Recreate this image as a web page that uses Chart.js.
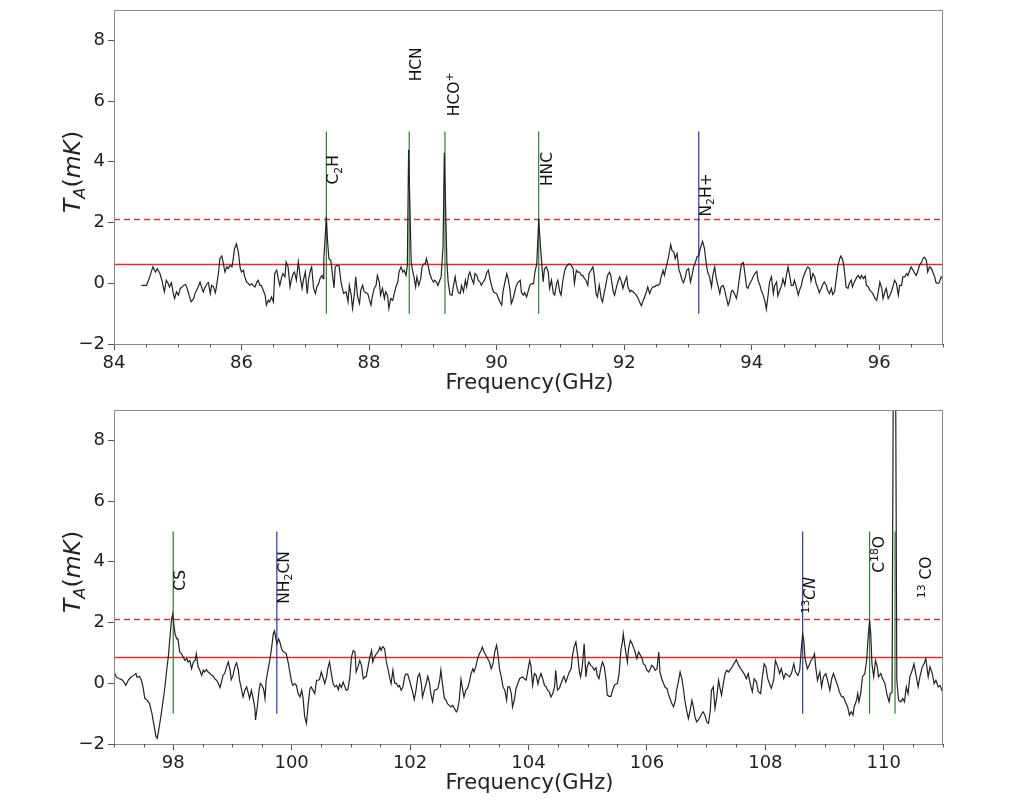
<!DOCTYPE html>
<html>
<head>
<meta charset="utf-8">
<script src="https://cdn.jsdelivr.net/npm/chart.js@4"></script>
<style>
  body { margin: 0; background: #fff; }
  canvas { position: absolute; left: 0; }
  #topChart { top: 0; }
  #bottomChart { top: 400px; }
</style>
</head>
<body>
<canvas id="topChart" width="1024" height="400"></canvas>
<canvas id="bottomChart" width="1024" height="402"></canvas>
<script>
// spectrum, [frequency GHz, T_A mK]
const topSpectrum = [
  [84.43,-0.07],[84.51,-0.07],[84.56,0.21],[84.61,0.54],[84.65,0.37],[84.68,0.48],[84.72,0.32],[84.75,0.10],
  [84.79,-0.28],[84.82,0.10],[84.85,-0.01],[84.87,-0.12],[84.90,0.02],[84.93,-0.34],[84.95,-0.50],[84.98,-0.28],
  [85.01,-0.39],[85.04,-0.17],[85.07,-0.12],[85.09,-0.07],[85.12,-0.04],[85.14,-0.12],[85.17,-0.34],[85.21,-0.61],
  [85.25,-0.50],[85.27,-0.34],[85.32,-0.12],[85.35,0.04],[85.38,-0.17],[85.40,-0.28],[85.43,-0.12],[85.46,-0.01],
  [85.48,0.02],[85.51,-0.34],[85.53,-0.07],[85.56,-0.12],[85.59,-0.31],[85.61,-0.07],[85.64,0.37],[85.66,0.81],
  [85.69,0.90],[85.71,0.70],[85.74,0.37],[85.77,0.54],[85.79,0.48],[85.82,0.59],[85.85,0.54],[85.87,0.81],
  [85.89,1.14],[85.92,1.30],[85.95,1.03],[85.98,0.48],[86.00,0.37],[86.03,0.43],[86.05,0.21],[86.08,0.04],
  [86.11,-0.01],[86.13,-0.07],[86.16,-0.01],[86.18,-0.07],[86.21,-0.12],[86.24,0.04],[86.26,0.10],[86.29,-0.07],
  [86.31,-0.07],[86.34,-0.23],[86.37,-0.39],[86.39,-0.72],[86.42,-0.56],[86.44,-0.61],[86.47,-0.45],[86.50,-0.61],
  [86.52,0.32],[86.55,0.43],[86.57,0.21],[86.60,-0.07],[86.63,0.21],[86.65,0.32],[86.68,0.21],[86.70,0.70],
  [86.73,0.54],[86.76,-0.12],[86.78,0.10],[86.81,0.32],[86.83,0.37],[86.86,0.10],[86.89,0.70],[86.92,0.21],
  [86.95,-0.17],[86.97,0.10],[87.00,0.37],[87.03,-0.34],[87.05,0.10],[87.08,0.43],[87.10,0.54],[87.13,-0.17],
  [87.16,-0.34],[87.18,-0.12],[87.21,-0.01],[87.23,0.15],[87.26,0.26],[87.28,0.15],[87.29,0.81],[87.31,1.46],
  [87.33,2.20],[87.35,1.36],[87.37,0.81],[87.40,0.75],[87.43,0.21],[87.45,-0.15],[87.47,0.54],[87.50,0.59],
  [87.53,0.57],[87.56,0.04],[87.60,-0.34],[87.64,-0.28],[87.67,-0.61],[87.69,-0.07],[87.72,-0.39],[87.74,-0.83],
  [87.77,-0.34],[87.79,0.21],[87.82,-0.45],[87.85,-0.67],[87.87,-0.23],[87.90,-0.07],[87.92,-0.26],[87.95,-0.31],
  [87.98,-0.34],[88.00,-0.50],[88.03,-0.72],[88.05,-0.45],[88.08,-0.17],[88.11,-0.07],[88.13,0.26],[88.16,0.04],
  [88.18,-0.39],[88.21,-0.17],[88.24,-0.50],[88.26,-0.28],[88.29,-0.39],[88.31,-0.83],[88.34,-0.50],[88.37,-0.56],
  [88.39,-0.39],[88.42,-0.12],[88.45,0.04],[88.47,0.37],[88.50,0.54],[88.53,0.37],[88.55,0.43],[88.58,0.26],
  [88.60,0.59],[88.62,4.40],[88.64,2.60],[88.66,0.70],[88.68,0.43],[88.70,0.26],[88.73,-0.12],[88.75,0.21],
  [88.78,-0.07],[88.81,0.15],[88.83,0.54],[88.86,0.64],[88.88,0.64],[88.90,0.81],[88.93,0.54],[88.95,0.32],
  [88.98,0.15],[89.01,0.04],[89.03,0.10],[89.06,0.02],[89.08,-0.07],[89.11,0.10],[89.13,0.21],[89.16,1.20],
  [89.18,4.30],[89.20,2.50],[89.22,0.70],[89.24,0.04],[89.27,-0.37],[89.30,-0.39],[89.32,-0.12],[89.35,0.21],
  [89.37,-0.07],[89.40,-0.31],[89.43,-0.34],[89.45,-0.07],[89.48,-0.28],[89.51,0.10],[89.53,-0.12],[89.56,0.26],
  [89.58,0.37],[89.61,0.15],[89.64,-0.01],[89.66,0.32],[89.69,0.26],[89.71,0.10],[89.74,0.04],[89.76,-0.07],
  [89.79,0.04],[89.82,0.15],[89.84,0.32],[89.87,0.43],[89.89,0.21],[89.92,-0.07],[89.95,-0.28],[89.97,-0.31],
  [90.00,-0.34],[90.03,-0.50],[90.05,-0.61],[90.08,-0.72],[90.10,-0.28],[90.13,0.04],[90.16,0.32],[90.18,0.15],
  [90.21,-0.23],[90.23,-0.67],[90.26,-0.50],[90.29,-0.23],[90.31,-0.07],[90.34,0.04],[90.37,0.10],[90.39,-0.31],
  [90.42,-0.39],[90.44,-0.31],[90.47,-0.45],[90.50,-0.23],[90.52,-0.07],[90.55,-0.01],[90.58,-0.01],[90.60,0.37],
  [90.63,0.64],[90.66,2.10],[90.69,1.14],[90.71,0.59],[90.73,0.04],[90.75,0.48],[90.78,0.54],[90.81,0.37],
  [90.83,-0.17],[90.86,0.10],[90.89,-0.34],[90.91,-0.39],[90.94,-0.01],[90.96,0.10],[90.99,-0.28],[91.01,-0.39],
  [91.04,0.10],[91.07,0.43],[91.09,0.54],[91.12,0.61],[91.14,0.64],[91.17,0.59],[91.20,0.48],[91.22,-0.01],
  [91.25,0.43],[91.27,0.37],[91.30,0.37],[91.33,0.26],[91.35,0.26],[91.38,0.15],[91.40,0.10],[91.43,-0.07],
  [91.45,0.32],[91.48,0.43],[91.51,0.54],[91.53,0.26],[91.56,-0.34],[91.58,-0.45],[91.61,-0.07],[91.64,-0.50],
  [91.66,-0.61],[91.69,-0.28],[91.71,-0.07],[91.74,0.26],[91.77,0.37],[91.79,0.26],[91.83,-0.28],[91.85,-0.39],
  [91.88,-0.12],[91.91,0.10],[91.93,0.21],[91.96,0.04],[91.98,-0.17],[92.01,0.04],[92.04,0.21],[92.06,-0.12],
  [92.09,-0.28],[92.11,-0.23],[92.14,-0.28],[92.17,-0.34],[92.19,-0.39],[92.22,-0.50],[92.24,-0.61],[92.27,-0.74],
  [92.30,-0.56],[92.32,-0.45],[92.35,-0.28],[92.37,-0.12],[92.40,-0.34],[92.43,-0.17],[92.45,-0.12],[92.48,-0.12],
  [92.50,-0.07],[92.53,-0.07],[92.56,-0.01],[92.58,0.21],[92.61,0.43],[92.63,0.26],[92.66,0.54],[92.69,0.81],
  [92.71,1.03],[92.73,1.27],[92.75,1.08],[92.78,1.03],[92.80,0.81],[92.83,0.98],[92.86,0.43],[92.88,0.32],
  [92.91,0.10],[92.93,0.02],[92.96,0.21],[92.98,0.43],[93.01,0.48],[93.04,0.04],[93.07,0.32],[93.09,0.54],
  [93.12,0.70],[93.14,0.86],[93.17,0.92],[93.20,1.19],[93.23,1.38],[93.26,1.14],[93.29,0.59],[93.31,0.37],
  [93.34,0.21],[93.37,-0.12],[93.39,0.26],[93.42,0.54],[93.44,0.21],[93.47,-0.07],[93.50,-0.34],[93.52,-0.12],
  [93.55,-0.07],[93.57,-0.17],[93.60,-0.45],[93.63,-0.72],[93.65,-0.61],[93.68,-0.28],[93.70,-0.23],[93.73,-0.34],
  [93.76,-0.50],[93.78,-0.28],[93.81,0.21],[93.84,0.64],[93.87,0.68],[93.89,0.37],[93.92,-0.12],[93.94,-0.17],
  [93.97,-0.01],[94.00,0.10],[94.02,0.21],[94.05,0.32],[94.08,0.39],[94.10,0.10],[94.13,-0.07],[94.15,-0.23],
  [94.18,-0.39],[94.21,-0.61],[94.23,-0.85],[94.26,-0.34],[94.28,0.04],[94.31,0.21],[94.34,-0.34],[94.36,-0.07],
  [94.39,0.04],[94.41,-0.42],[94.44,-0.23],[94.47,-0.07],[94.49,0.15],[94.52,-0.07],[94.54,0.21],[94.57,0.54],
  [94.60,0.21],[94.62,-0.07],[94.65,-0.07],[94.67,0.10],[94.70,-0.12],[94.73,-0.39],[94.75,-0.23],[94.78,-0.07],
  [94.80,0.15],[94.83,0.32],[94.86,0.48],[94.88,0.54],[94.91,0.48],[94.93,0.07],[94.96,0.32],[94.99,0.21],
  [95.01,-0.01],[95.04,-0.17],[95.06,-0.31],[95.09,-0.17],[95.12,-0.01],[95.14,0.04],[95.17,-0.07],[95.19,-0.23],
  [95.22,-0.34],[95.25,-0.17],[95.27,-0.37],[95.30,-0.28],[95.32,0.04],[95.35,0.54],[95.38,0.81],[95.40,0.90],
  [95.43,0.75],[95.45,0.48],[95.48,-0.12],[95.51,-0.17],[95.53,-0.01],[95.56,0.10],[95.58,-0.12],[95.61,0.04],
  [95.65,0.21],[95.67,0.26],[95.70,0.15],[95.72,0.26],[95.75,0.15],[95.78,0.24],[95.80,-0.07],[95.83,-0.12],
  [95.85,-0.23],[95.88,-0.28],[95.91,-0.39],[95.93,-0.48],[95.96,-0.56],[95.98,-0.34],[96.01,0.04],[96.04,-0.17],
  [96.06,-0.50],[96.09,-0.28],[96.11,-0.17],[96.14,-0.50],[96.17,-0.39],[96.19,-0.28],[96.22,-0.07],[96.24,0.10],
  [96.27,-0.01],[96.30,-0.39],[96.32,-0.07],[96.35,-0.07],[96.37,0.21],[96.40,0.21],[96.43,0.32],[96.45,0.26],
  [96.48,0.43],[96.50,0.54],[96.53,0.43],[96.56,0.32],[96.58,0.26],[96.61,0.43],[96.63,0.59],[96.66,0.68],
  [96.69,0.83],[96.71,0.86],[96.74,0.75],[96.76,0.37],[96.79,0.54],[96.82,0.48],[96.84,0.37],[96.87,0.21],
  [96.89,0.02],[96.92,-0.01],[96.94,0.02],[96.97,0.21],[97.00,0.15]
];

const bottomSpectrum = [
  [97.00,0.37],[97.04,0.21],[97.09,0.15],[97.13,0.12],[97.17,0.04],[97.20,-0.07],[97.24,0.10],[97.28,0.19],
  [97.33,0.26],[97.37,0.32],[97.39,0.19],[97.43,0.23],[97.46,0.12],[97.49,-0.12],[97.52,-0.50],[97.56,-0.56],
  [97.60,-0.67],[97.64,-0.99],[97.67,-1.32],[97.71,-1.76],[97.73,-1.81],[97.76,-1.49],[97.80,-0.99],[97.83,-0.56],
  [97.86,-0.12],[97.89,0.43],[97.92,0.92],[97.94,1.41],[97.97,2.07],[97.99,2.26],[98.01,1.96],[98.03,1.63],
  [98.06,1.46],[98.08,1.46],[98.11,1.03],[98.14,0.97],[98.17,0.86],[98.20,0.75],[98.23,0.81],[98.25,0.70],
  [98.28,0.75],[98.31,0.48],[98.34,0.70],[98.37,0.75],[98.39,0.97],[98.42,0.54],[98.45,0.43],[98.48,0.26],
  [98.51,0.43],[98.53,0.37],[98.56,0.45],[98.59,0.37],[98.62,0.32],[98.65,0.26],[98.68,0.23],[98.70,0.15],
  [98.73,0.10],[98.76,0.01],[98.79,-0.14],[98.82,0.08],[98.84,0.26],[98.87,0.32],[98.90,0.54],[98.93,0.70],
  [98.96,0.43],[98.98,0.12],[99.01,0.26],[99.04,0.54],[99.07,0.67],[99.10,0.43],[99.12,0.10],[99.15,-0.17],
  [99.18,-0.45],[99.21,-0.23],[99.24,-0.12],[99.27,-0.34],[99.29,-0.50],[99.32,-0.23],[99.35,-0.50],[99.38,-0.83],
  [99.39,-1.21],[99.42,-0.78],[99.45,-0.23],[99.47,-0.01],[99.50,-0.07],[99.53,-0.23],[99.55,-0.50],[99.57,0.10],
  [99.60,0.43],[99.63,0.75],[99.66,1.14],[99.69,1.63],[99.71,1.72],[99.73,1.52],[99.75,1.30],[99.78,1.46],
  [99.80,1.36],[99.83,1.14],[99.86,1.03],[99.88,1.03],[99.91,0.97],[99.94,0.70],[99.97,0.37],[100.00,0.04],
  [100.02,-0.07],[100.05,-0.01],[100.08,-0.07],[100.11,-0.34],[100.14,-0.45],[100.17,-0.23],[100.19,-0.45],[100.22,-1.10],
  [100.25,-1.32],[100.28,-0.67],[100.31,-0.17],[100.33,-0.12],[100.36,-0.23],[100.39,-0.34],[100.42,0.10],[100.45,0.10],
  [100.47,0.12],[100.50,0.37],[100.53,0.19],[100.56,-0.01],[100.59,0.21],[100.61,0.48],[100.64,0.70],[100.67,0.32],
  [100.70,-0.01],[100.73,-0.12],[100.76,-0.07],[100.79,-0.21],[100.81,-0.03],[100.84,-0.14],[100.87,0.04],[100.90,-0.12],
  [100.92,-0.23],[100.95,-0.21],[100.98,0.15],[101.01,0.86],[101.04,1.08],[101.07,1.03],[101.09,0.37],[101.12,0.54],
  [101.15,0.75],[101.18,0.59],[101.21,0.15],[101.23,0.19],[101.26,0.23],[101.29,0.54],[101.32,0.86],[101.35,1.08],
  [101.37,0.70],[101.40,0.86],[101.43,0.97],[101.46,1.03],[101.49,1.19],[101.51,1.08],[101.54,1.21],[101.57,1.14],
  [101.60,0.70],[101.63,0.43],[101.66,0.15],[101.68,-0.01],[101.71,0.43],[101.74,0.01],[101.77,-0.01],[101.80,-0.12],
  [101.82,-0.07],[101.85,-0.23],[101.88,-0.12],[101.91,0.23],[101.93,0.30],[101.96,0.30],[101.99,0.10],[102.02,-0.12],
  [102.05,-0.34],[102.07,-0.54],[102.10,-0.23],[102.13,0.21],[102.16,0.32],[102.19,-0.01],[102.21,-0.45],[102.24,-0.23],
  [102.27,-0.01],[102.30,0.23],[102.33,-0.01],[102.35,-0.34],[102.38,-0.61],[102.41,-0.23],[102.44,-0.21],[102.47,-0.17],
  [102.50,0.10],[102.52,0.43],[102.55,-0.07],[102.58,-0.50],[102.61,-0.56],[102.63,-0.67],[102.66,-0.72],[102.69,-0.78],
  [102.72,-0.72],[102.75,-0.83],[102.78,-0.94],[102.80,-0.89],[102.83,-0.56],[102.86,0.12],[102.89,-0.23],[102.91,-0.45],
  [102.94,-0.23],[102.97,-0.17],[103.00,0.04],[103.03,0.32],[103.06,0.48],[103.08,0.37],[103.11,0.54],[103.14,0.81],
  [103.17,0.97],[103.20,1.08],[103.22,1.19],[103.25,1.03],[103.28,0.92],[103.31,0.81],[103.34,0.70],[103.37,0.48],
  [103.40,0.64],[103.43,1.03],[103.46,1.25],[103.48,1.03],[103.51,0.48],[103.54,0.21],[103.57,-0.12],[103.60,-0.23],
  [103.63,-0.56],[103.65,-0.12],[103.68,-0.12],[103.71,-0.34],[103.73,-0.78],[103.76,-0.56],[103.79,-0.17],[103.82,-0.01],
  [103.85,0.15],[103.88,0.19],[103.90,0.21],[103.93,0.15],[103.96,0.10],[103.99,0.43],[104.02,0.75],[104.04,0.59],
  [104.07,-0.07],[104.10,0.32],[104.13,0.26],[104.16,-0.03],[104.18,0.15],[104.21,0.32],[104.24,0.15],[104.27,-0.07],
  [104.30,-0.12],[104.32,-0.23],[104.35,-0.28],[104.38,-0.45],[104.41,-0.34],[104.44,-0.12],[104.46,0.43],[104.49,-0.23],
  [104.52,-0.17],[104.55,-0.01],[104.58,0.15],[104.60,0.23],[104.63,0.04],[104.66,0.21],[104.69,0.37],[104.72,0.48],
  [104.74,0.86],[104.77,1.19],[104.80,1.36],[104.83,0.92],[104.86,0.37],[104.88,0.21],[104.91,0.59],[104.94,1.30],
  [104.97,0.21],[104.99,0.54],[105.02,0.70],[105.05,0.59],[105.08,0.54],[105.11,0.43],[105.14,0.51],[105.16,0.26],
  [105.19,0.15],[105.22,0.48],[105.25,0.70],[105.28,0.54],[105.31,0.10],[105.33,-0.39],[105.36,-0.43],[105.39,-0.43],
  [105.42,-0.23],[105.45,-0.07],[105.47,-0.03],[105.50,-0.01],[105.53,0.32],[105.56,1.08],[105.59,1.41],[105.60,1.63],
  [105.63,1.19],[105.67,0.70],[105.69,1.14],[105.72,1.41],[105.75,1.30],[105.78,1.14],[105.80,1.03],[105.83,0.81],
  [105.86,1.03],[105.89,0.92],[105.92,0.81],[105.94,0.64],[105.97,0.59],[106.00,0.43],[106.03,0.37],[106.06,0.48],
  [106.08,0.59],[106.11,0.54],[106.14,0.43],[106.17,0.48],[106.20,1.03],[106.22,0.37],[106.25,0.15],[106.28,-0.01],
  [106.31,-0.14],[106.34,-0.17],[106.36,-0.34],[106.39,-0.50],[106.42,-0.67],[106.45,-0.78],[106.48,-0.56],[106.50,-0.23],
  [106.53,0.04],[106.56,0.37],[106.59,0.15],[106.62,-0.23],[106.64,-0.56],[106.67,-0.89],[106.70,-1.16],[106.73,-0.89],
  [106.76,-0.56],[106.79,-0.83],[106.81,-1.10],[106.84,-1.27],[106.87,-1.21],[106.90,-1.10],[106.93,-0.99],[106.95,-0.94],
  [106.98,-1.05],[107.01,-1.27],[107.04,-1.32],[107.07,-0.89],[107.09,-0.23],[107.12,-0.12],[107.15,-0.83],[107.18,-0.45],
  [107.21,0.10],[107.23,-0.12],[107.26,-0.39],[107.29,-0.01],[107.32,0.32],[107.35,0.43],[107.38,0.37],[107.44,0.54],
  [107.51,0.78],[107.55,0.59],[107.60,0.43],[107.64,0.32],[107.68,0.15],[107.71,0.32],[107.75,-0.07],[107.78,-0.28],
  [107.81,0.15],[107.85,0.04],[107.88,-0.28],[107.92,-0.34],[107.95,0.21],[107.98,0.64],[108.01,0.54],[108.04,0.15],
  [108.07,-0.01],[108.10,-0.17],[108.14,0.10],[108.17,0.75],[108.21,0.54],[108.24,0.32],[108.27,0.48],[108.31,0.15],
  [108.34,0.32],[108.38,0.26],[108.41,0.21],[108.44,0.32],[108.48,0.64],[108.51,0.37],[108.55,0.26],[108.58,0.43],
  [108.60,0.97],[108.63,1.63],[108.65,1.41],[108.67,0.81],[108.71,0.48],[108.74,0.59],[108.77,0.75],[108.81,0.86],
  [108.83,0.97],[108.85,0.54],[108.88,0.10],[108.92,0.37],[108.95,-0.12],[108.98,0.21],[109.02,0.32],[109.05,0.10],
  [109.09,-0.23],[109.12,0.15],[109.15,0.32],[109.19,0.10],[109.22,-0.07],[109.25,-0.28],[109.29,-0.45],[109.32,-0.45],
  [109.35,-0.61],[109.39,-0.78],[109.42,-1.05],[109.45,-0.94],[109.48,-1.05],[109.50,-0.78],[109.54,-0.56],[109.56,-0.34],
  [109.58,-0.61],[109.61,-0.34],[109.64,0.21],[109.68,0.32],[109.71,0.75],[109.74,1.63],[109.76,2.07],[109.78,1.63],
  [109.80,0.64],[109.83,0.21],[109.86,0.75],[109.89,0.54],[109.91,0.21],[109.95,0.32],[109.98,0.15],[110.02,-0.01],
  [110.05,-0.34],[110.09,-0.61],[110.11,-0.34],[110.14,-0.30],[110.18,20.0],[110.22,0.10],[110.25,-0.56],[110.29,-0.61],
  [110.32,-0.50],[110.35,-0.61],[110.38,-0.12],[110.41,-0.34],[110.44,0.21],[110.48,0.43],[110.51,0.64],[110.55,0.21],
  [110.58,-0.12],[110.61,0.21],[110.65,0.54],[110.68,0.64],[110.71,0.81],[110.75,0.21],[110.78,0.54],[110.82,0.32],
  [110.85,-0.01],[110.88,0.10],[110.92,-0.12],[110.95,-0.07],[110.98,-0.23],[111.00,-0.20]
];

// tick labels
const topXTicks = [84, 86, 88, 90, 92, 94, 96];
const bottomXTicks = [98, 100, 102, 104, 106, 108, 110];
const yTicks = [-2, 0, 2, 4, 6, 8];

// identified lines
const topLineFreq = [87.33, 88.63, 89.19, 90.66, 93.17];
const topLineNames = ['C_2H', 'HCN', 'HCO^+', 'HNC', 'N_2H+'];
const topLineColors = ['#2f7a35', '#2f7a35', '#2f7a35', '#2f7a35', '#2a3a9e'];
const topLabelFreq = [87.33, 88.63, 89.19, 90.68, 93.17];
const topLabelY = [3.25, 6.65, 5.5, 3.2, 2.2];

const bottomLineFreq = [98.0, 99.75, 108.63, 109.76, 110.19];
const bottomLineColors = ['#2f7a35', '#2a3a9e', '#2a3a9e', '#2f7a35', '#2f7a35'];
const bottomLineNames = ['CS', 'NH_2CN', '^{13}/CN/', 'C^{18}O', '^{13} CO'];
const bottomLabelFreq = [98.0, 99.75, 108.6, 109.76, 110.56];
const bottomLabelY = [3.05, 2.62, 2.3, 3.64, 2.8];

// noise level (solid) and detection threshold (dashed)
const topRms = 0.62, topThreshold = 2.1;
const bottomRms = 0.85, bottomThreshold = 2.1;

const lineBottom = -1, lineTop = 5;
const yMin = -2, yMax = 9;
const FONT = "'DejaVu Sans', sans-serif";

// parse "C_2H", "HCO^+", "^{13}/CN/" into pieces
function parseLabel(s) {
  const parts = [];
  let italic = false;
  let i = 0;
  while (i < s.length) {
    const ch = s[i];
    if (ch === '/') { italic = !italic; i++; continue; }
    if (ch === '_' || ch === '^') {
      const mode = ch === '_' ? 'sub' : 'sup';
      let txt;
      if (s[i + 1] === '{') {
        const end = s.indexOf('}', i);
        txt = s.slice(i + 2, end);
        i = end + 1;
      } else {
        txt = s[i + 1];
        i += 2;
      }
      parts.push({ text: txt, mode, italic });
      continue;
    }
    parts.push({ text: ch, mode: 'n', italic });
    i++;
  }
  return parts;
}

function drawParts(ctx, parts, size, baseY) {
  let x = 0;
  for (const p of parts) {
    const fs = p.mode === 'n' ? size : size * 0.7;
    ctx.font = (p.italic ? 'italic ' : '') + fs + 'px ' + FONT;
    let dy = 0;
    if (p.mode === 'sub') dy = size * 0.2;
    if (p.mode === 'sup') dy = -size * 0.38;
    ctx.fillText(p.text, x, baseY + dy);
    x += ctx.measureText(p.text).width;
  }
  return x;
}

function partsWidth(ctx, parts, size) {
  let w = 0;
  for (const p of parts) {
    const fs = p.mode === 'n' ? size : size * 0.7;
    ctx.font = (p.italic ? 'italic ' : '') + fs + 'px ' + FONT;
    w += ctx.measureText(p.text).width;
  }
  return w;
}

const decorPlugin = {
  id: 'decor',
  afterDraw(chart) {
    const ctx = chart.ctx;
    const a = chart.chartArea;
    const xs = chart.scales.x, ys = chart.scales.y;
    const cfg = chart.options.plugins.decor;
    ctx.save();

    // frame
    ctx.strokeStyle = '#8a8a8a';
    ctx.lineWidth = 1;
    ctx.strokeRect(a.left + 0.5, a.top + 0.5, a.right - a.left - 1, a.bottom - a.top);

    // minor ticks every 0.5 GHz
    ctx.strokeStyle = '#555';
    for (let v = Math.ceil(xs.min * 2) / 2; v <= xs.max + 1e-9; v += 0.5) {
      if (Math.abs(v / 2 - Math.round(v / 2)) < 1e-6) continue;
      const px = Math.round(xs.getPixelForValue(v)) + 0.5;
      ctx.beginPath();
      ctx.moveTo(px, a.bottom);
      ctx.lineTo(px, a.bottom + 3.5);
      ctx.stroke();
    }

    // molecule labels, rotated, text box starting at (freq, y)
    ctx.fillStyle = '#111';
    ctx.textBaseline = 'alphabetic';
    ctx.textAlign = 'left';
    const fs = 15.5;
    cfg.names.forEach((name, i) => {
      const px = xs.getPixelForValue(cfg.labelFreq[i]);
      const py = ys.getPixelForValue(cfg.labelY[i]);
      const parts = parseLabel(name);
      const hasSup = parts.some(p => p.mode === 'sup');
      ctx.save();
      ctx.translate(px, py);
      ctx.rotate(-Math.PI / 2);
      drawParts(ctx, parts, fs, fs * 0.78 + (hasSup ? fs * 0.12 : 0));
      ctx.restore();
    });

    // axis titles
    ctx.fillStyle = '#222';
    ctx.font = '21px ' + FONT;
    ctx.textAlign = 'center';
    ctx.textBaseline = 'middle';
    ctx.fillText('Frequency(GHz)', (a.left + a.right) / 2 + 1, a.bottom + 40);

    const yParts = parseLabel('/T_A/(/mK/)').map(p =>
      (p.text === '(' || p.text === ')') ? Object.assign({}, p, { italic: false }) : p);
    const ySize = 23.5;
    const w = partsWidth(ctx, yParts, ySize);
    ctx.save();
    ctx.translate(80, (a.top + a.bottom) / 2 - 5 + w / 2);
    ctx.rotate(-Math.PI / 2);
    ctx.textAlign = 'left';
    ctx.textBaseline = 'alphabetic';
    drawParts(ctx, yParts, ySize, 0);
    ctx.restore();
    ctx.restore();
  }
};

function makePanel(canvasId, spectrum, lineFreq, lineColors, names, labelFreq, labelY, rms, threshold, xMin, xMax, xTicks, xAxisHeight) {
  const datasets = [];
  datasets.push({
    data: spectrum.map(p => ({ x: p[0], y: p[1] })),
    borderColor: '#222',
    borderWidth: 1.2,
    pointRadius: 0,
    tension: 0
  });
  lineFreq.forEach((f, i) => {
    datasets.push({
      data: [{ x: f, y: lineBottom }, { x: f, y: lineTop }],
      borderColor: lineColors[i],
      borderWidth: 1.2,
      pointRadius: 0
    });
  });
  datasets.push({
    data: [{ x: xMin, y: rms }, { x: xMax, y: rms }],
    borderColor: '#d9302c',
    borderWidth: 1.6,
    pointRadius: 0
  });
  datasets.push({
    data: [{ x: xMin, y: threshold }, { x: xMax, y: threshold }],
    borderColor: '#c8403f',
    borderWidth: 1.4,
    borderDash: [6, 4],
    pointRadius: 0
  });

  return new Chart(document.getElementById(canvasId), {
    type: 'line',
    data: { datasets },
    options: {
      responsive: false,
      animation: false,
      devicePixelRatio: 1,
      layout: { padding: { top: 10, right: 81, left: 0, bottom: 0 } },
      plugins: {
        legend: { display: false },
        tooltip: { enabled: false },
        decor: { names, labelFreq, labelY }
      },
      scales: {
        x: {
          type: 'linear',
          min: xMin,
          max: xMax,
          grid: { drawOnChartArea: false, tickLength: 6, color: '#555' },
          border: { display: false },
          ticks: {
            autoSkip: false,
            maxRotation: 0,
            padding: 3,
            color: '#222',
            font: { family: FONT, size: 18 },
            callback: v => String(v)
          },
          afterBuildTicks: s => { s.ticks = xTicks.map(v => ({ value: v })); },
          afterFit: s => { s.height = xAxisHeight; s.paddingLeft = 0; s.paddingRight = 0; }
        },
        y: {
          min: yMin,
          max: yMax,
          grid: { drawOnChartArea: false, tickLength: 6, color: '#555' },
          border: { display: false },
          ticks: {
            padding: 3,
            color: '#222',
            font: { family: FONT, size: 18 },
            callback: v => v < 0 ? '\u2212' + Math.abs(v) : String(v)
          },
          afterBuildTicks: s => { s.ticks = yTicks.map(v => ({ value: v })); },
          afterFit: s => { s.width = 114; s.paddingTop = 0; s.paddingBottom = 0; }
        }
      }
    },
    plugins: [decorPlugin]
  });
}

makePanel('topChart', topSpectrum, topLineFreq, topLineColors, topLineNames, topLabelFreq, topLabelY,
  topRms, topThreshold, 84, 97, topXTicks, 56);
makePanel('bottomChart', bottomSpectrum, bottomLineFreq, bottomLineColors, bottomLineNames, bottomLabelFreq, bottomLabelY,
  bottomRms, bottomThreshold, 97, 111, bottomXTicks, 58);
</script>
</body>
</html>
